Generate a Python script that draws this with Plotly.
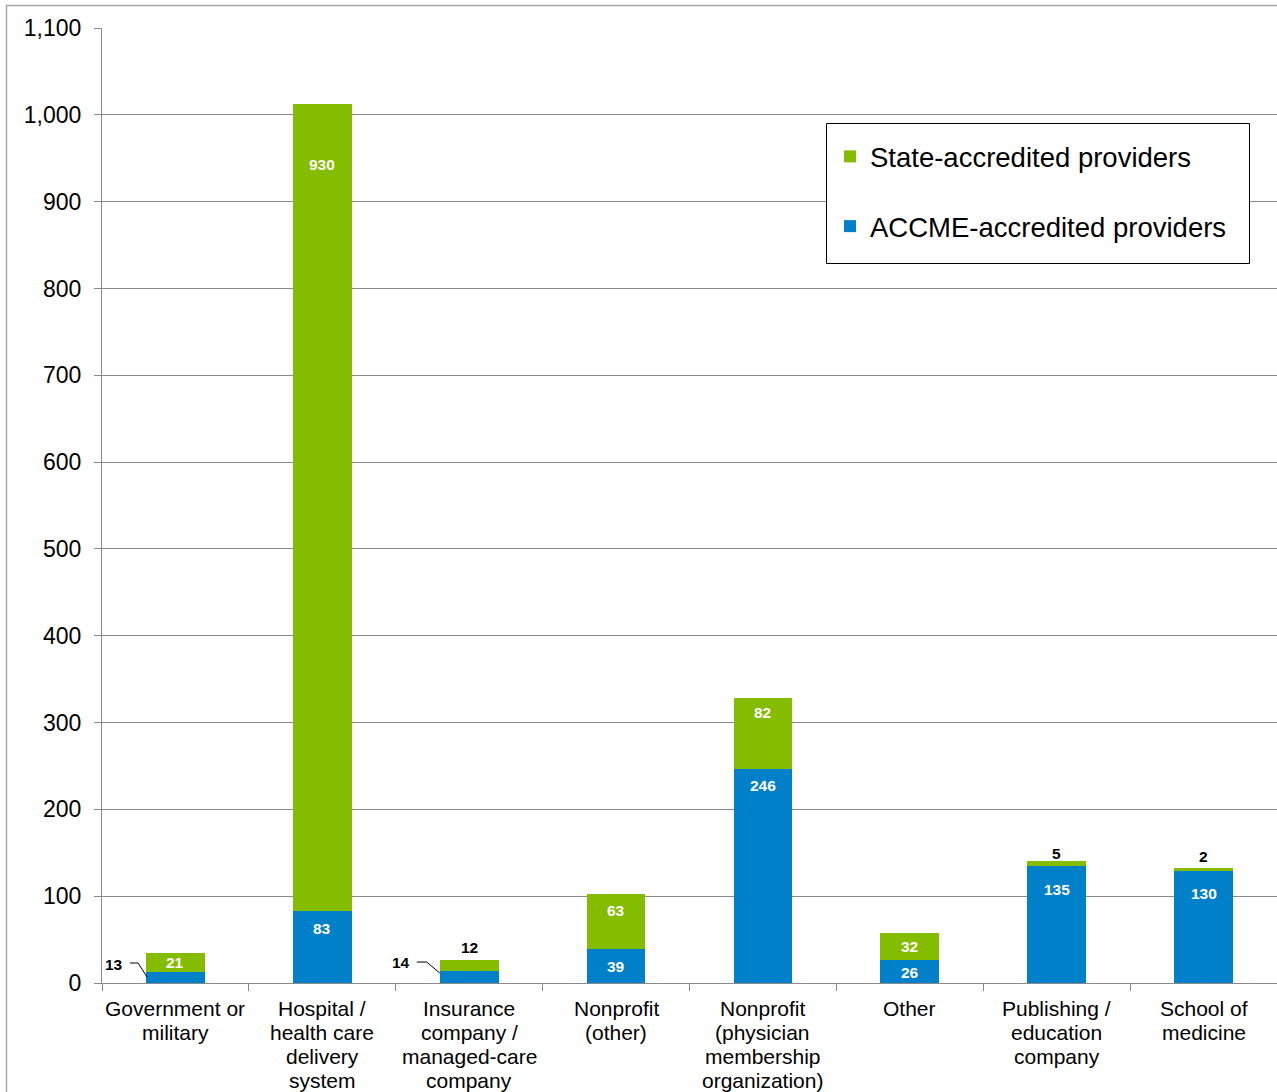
import plotly.graph_objects as go

# ---------------- data ----------------
categories = [
    "Government or<br>military",
    "Hospital /<br>health care<br>delivery<br>system",
    "Insurance<br>company /<br>managed-care<br>company",
    "Nonprofit<br>(other)",
    "Nonprofit<br>(physician<br>membership<br>organization)",
    "Other",
    "Publishing /<br>education<br>company",
    "School of<br>medicine",
]
accme_values = [13, 83, 14, 39, 246, 26, 135, 130]
state_values = [21, 930, 12, 63, 82, 32, 5, 2]
series_names = ["ACCME-accredited providers", "State-accredited providers"]
y_tick_values = [0, 100, 200, 300, 400, 500, 600, 700, 800, 900, 1000, 1100]

# ---------------- styles ----------------
GREEN = "#84BC00"
BLUE = "#0080C9"
GRID = "#8A8A8A"
FONT = "Liberation Sans, Arial, sans-serif"
LBL = 15.5

# label placement: pixel distance of label centre below the top of its segment
# (negative = above), None = label drawn outside with a leader line
accme_label_offsets = [None, 18, None, 17.5, 16.5, 12.3, 24, 23.2]
state_label_offsets = [9, 60.5, -13.4, 15.6, 13.8, 14.1, -8.2, -11.7]
# leader line geometry (pixels relative to bar's left edge at top of ACCME segment)
leader_styles = {
    0: dict(pts=[(-16, 8.7), (-8, 8.7), (1, -5.3)], label_dx=-21, label_dy=7),
    2: dict(pts=[(-23, 8.8), (-13, 8.8), (0, -2.2)], label_dx=-28, label_dy=8),
}

idx = list(range(len(categories)))
fig = go.Figure()
fig.add_trace(go.Bar(
    x=idx, y=accme_values, name=series_names[0], marker_color=BLUE,
    marker_line_width=0, legendgroup="a", legendrank=2, hoverinfo="skip"))
fig.add_trace(go.Bar(
    x=idx, y=state_values, name=series_names[1], marker_color=GREEN,
    marker_line_width=0, legendgroup="s", legendrank=1, hoverinfo="skip"))

annotations = []
shapes = []
BAR_HALF = 0.2

for i in idx:
    a, s = accme_values[i], state_values[i]
    off = accme_label_offsets[i]
    if off is not None:
        annotations.append(dict(x=i, y=a, xref="x", yref="y", text=f"<b>{a}</b>",
                                showarrow=False, yanchor="middle", yshift=-off,
                                font=dict(family=FONT, size=LBL, color="white")))
    else:
        st = leader_styles[i]
        pts = st["pts"]
        for (x0, y0), (x1, y1) in zip(pts[:-1], pts[1:]):
            shapes.append(dict(type="line", xref="x", yref="y",
                               xsizemode="pixel", ysizemode="pixel",
                               xanchor=i - BAR_HALF, yanchor=a,
                               x0=x0, y0=y0, x1=x1, y1=y1,
                               line=dict(color="black", width=1)))
        annotations.append(dict(x=i - BAR_HALF, y=a, xref="x", yref="y",
                                text=f"<b>{a}</b>", showarrow=False,
                                xanchor="right", yanchor="middle",
                                xshift=st["label_dx"], yshift=st["label_dy"],
                                font=dict(family=FONT, size=LBL, color="black")))
    off = state_label_offsets[i]
    top = a + s
    col = "white" if off > 0 else "black"
    annotations.append(dict(x=i, y=top, xref="x", yref="y", text=f"<b>{s}</b>",
                            showarrow=False, yanchor="middle", yshift=-off,
                            font=dict(family=FONT, size=LBL, color=col)))

# category labels, one annotation per line (24px line pitch like the original)
for i, cat in enumerate(categories):
    for j, line in enumerate(cat.split("<br>")):
        annotations.append(dict(x=i, y=0, xref="x", yref="paper", text=line,
                                showarrow=False, yanchor="middle",
                                yshift=-(25 + 24 * j),
                                font=dict(family=FONT, size=21, color="black")))

L, R, T, B = 102, 0, 28, 109
W, H = 1277, 1092
pw, ph = W - L - R, H - T - B
def px(x):
    return (x - L) / pw
def py(y):
    return 1 - (y - T) / ph

# outer chart border (extends past right/bottom of the page)
shapes.append(dict(type="rect", xref="paper", yref="paper",
                   x0=px(6.5), x1=px(W + 5), y0=py(H + 10), y1=py(5.5),
                   line=dict(color="#A6A6A6", width=1.5), layer="below"))
# legend box
shapes.append(dict(type="rect", xref="paper", yref="paper",
                   x0=px(826.5), x1=px(1249.5), y0=py(263.5), y1=py(123.5),
                   line=dict(color="black", width=1), fillcolor="white", layer="above"))

fig.update_layout(
    width=W, height=H,
    margin=dict(l=L, r=R, t=T, b=B),
    paper_bgcolor="white", plot_bgcolor="white",
    barmode="stack", bargap=0.6,
    font=dict(family=FONT, color="black"),
    showlegend=True,
    legend=dict(x=px(830), y=py(132), xanchor="left", yanchor="top",
                borderwidth=0, bgcolor="rgba(0,0,0,0)",
                font=dict(family=FONT, size=27.5, color="black"),
                traceorder="grouped", tracegroupgap=31, itemwidth=30),
    annotations=annotations,
    shapes=shapes,
)
fig.update_xaxes(
    range=[-0.5, len(categories) - 0.5], tickmode="array",
    tickvals=[i - 0.5 for i in range(len(categories) + 1)], ticktext=[""] * (len(categories) + 1),
    showticklabels=False,
    ticks="outside", ticklen=7, tickcolor=GRID, tickwidth=1,
    showline=True, linecolor=GRID, linewidth=1, showgrid=False, zeroline=False,
)
fig.update_yaxes(
    range=[0, 1100], tickmode="array", tickvals=y_tick_values,
    tickformat=",", ticks="outside", ticklen=7, tickcolor=GRID,
    showline=True, linecolor=GRID, linewidth=1,
    showgrid=True, gridcolor=GRID, gridwidth=1, zeroline=False,
    tickfont=dict(family=FONT, size=23, color="black"), ticklabelstandoff=8,
)

fig.write_html("out.html")
